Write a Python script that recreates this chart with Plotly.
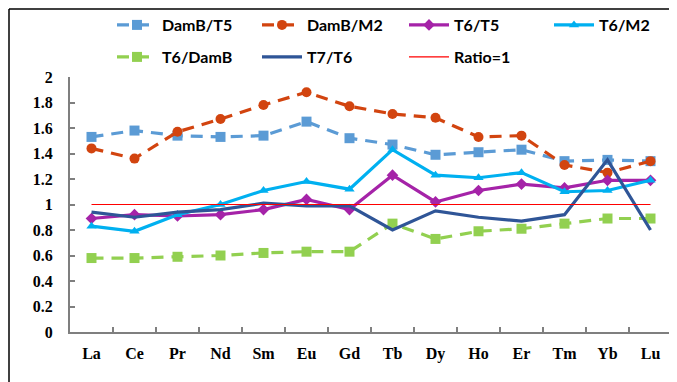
import plotly.graph_objects as go

elements = ["La", "Ce", "Pr", "Nd", "Sm", "Eu", "Gd", "Tb", "Dy", "Ho", "Er", "Tm", "Yb", "Lu"]

damb_t5 = [1.53, 1.58, 1.54, 1.53, 1.54, 1.65, 1.52, 1.47, 1.39, 1.41, 1.43, 1.34, 1.35, 1.34]
damb_m2 = [1.44, 1.36, 1.57, 1.67, 1.78, 1.88, 1.77, 1.71, 1.68, 1.53, 1.54, 1.31, 1.25, 1.34]
t6_t5 = [0.89, 0.92, 0.91, 0.92, 0.96, 1.04, 0.96, 1.23, 1.02, 1.11, 1.16, 1.13, 1.19, 1.19]
t6_m2 = [0.83, 0.79, 0.92, 1.00, 1.11, 1.18, 1.12, 1.43, 1.23, 1.21, 1.25, 1.10, 1.11, 1.19]
t6_damb = [0.58, 0.58, 0.59, 0.60, 0.62, 0.63, 0.63, 0.85, 0.73, 0.79, 0.81, 0.85, 0.89, 0.89]
t7_t6 = [0.94, 0.90, 0.94, 0.96, 1.01, 0.99, 0.99, 0.80, 0.95, 0.90, 0.87, 0.92, 1.35, 0.80]
ratio_one = [1] * len(elements)

y_ticks = [0, 0.2, 0.4, 0.6, 0.8, 1, 1.2, 1.4, 1.6, 1.8, 2]
y_tick_labels = ["0", "0.2", "0.4", "0.6", "0.8", "1", "1.2", "1.4", "1.6", "1.8", "2"]

# page body has an 8px margin, so the figure is drawn 8px in from the window edge
W, H = 669, 374

fig = go.Figure()

def add(name, y, color, dash, symbol, size, legend, width=3.2):
    mode = "lines+markers" if symbol else "lines"
    fig.add_trace(go.Scatter(
        x=elements, y=y, name=name, mode=mode,
        line=dict(color=color, width=width, dash=dash),
        marker=dict(symbol=symbol or "circle", size=size, color=color),
        legend=legend,
    ))

add("DamB/T5", damb_t5, "#5B9BD5", "12px,8px", "square", 10, "legend")
add("DamB/M2", damb_m2, "#D2440F", "12px,8px", "circle", 10, "legend2")
add("T6/T5", t6_t5, "#A523A8", "solid", "diamond", 9, "legend3")
add("T6/M2", t6_m2, "#00B0F0", "solid", "triangle-up", 9, "legend4")
add("T6/DamB", t6_damb, "#92D050", "12px,8px", "square", 10, "legend5")
add("T7/T6", t7_t6, "#2F5597", "solid", None, 6, "legend6")
add("Ratio=1", ratio_one, "#FF0000", "solid", None, 6, "legend7", width=1.2)

legend_font = dict(family="Lato, Liberation Sans, sans-serif", size=16, color="#000000", weight="bold")

def leg(x, y):
    return dict(orientation="h", xref="container", yref="container",
                x=x / W, y=1 - y / H, xanchor="left", yanchor="middle",
                font=legend_font, bgcolor="rgba(0,0,0,0)", itemwidth=40)

axis_font = dict(family="Liberation Serif, Times New Roman, serif", size=16, color="#000000", weight="bold")

row1, row2 = 17, 49
fig.update_layout(
    width=W, height=H,
    margin=dict(l=62, r=5, t=69, b=50, autoexpand=False),
    paper_bgcolor="white", plot_bgcolor="white",
    showlegend=True,
    legend=leg(104, row1),
    legend2=leg(249, row1),
    legend3=leg(396, row1),
    legend4=leg(541, row1),
    legend5=leg(104, row2),
    legend6=leg(249, row2),
    legend7=leg(396, row2),
    xaxis=dict(
        type="category", showgrid=False, showline=True, linecolor="#7F7F7F", linewidth=2,
        ticks="inside", ticklen=5, tickcolor="#7F7F7F", tickwidth=1.5, tickson="boundaries",
        tickfont=dict(**axis_font), ticklabelstandoff=6, range=[-0.5, 13.5],
    ),
    yaxis=dict(
        range=[0, 2], showgrid=False, zeroline=False, showline=True, linecolor="#7F7F7F", linewidth=2,
        ticks="inside", ticklen=5, tickcolor="#7F7F7F", tickwidth=1.5,
        tickvals=y_ticks, ticktext=y_tick_labels,
        tickfont=dict(**axis_font), ticklabelstandoff=12,
    ),
    shapes=[
        dict(type="line", xref="paper", yref="paper", x0=-61/602, x1=610/602, y0=1 + 68/255, y1=1 + 68/255,
             line=dict(color="black", width=1.5)),
        dict(type="line", xref="paper", yref="paper", x0=-61/602, x1=-61/602, y0=1 + 68/255, y1=-55/255,
             line=dict(color="black", width=1.5)),
    ],
)

fig.write_html("out.html")
